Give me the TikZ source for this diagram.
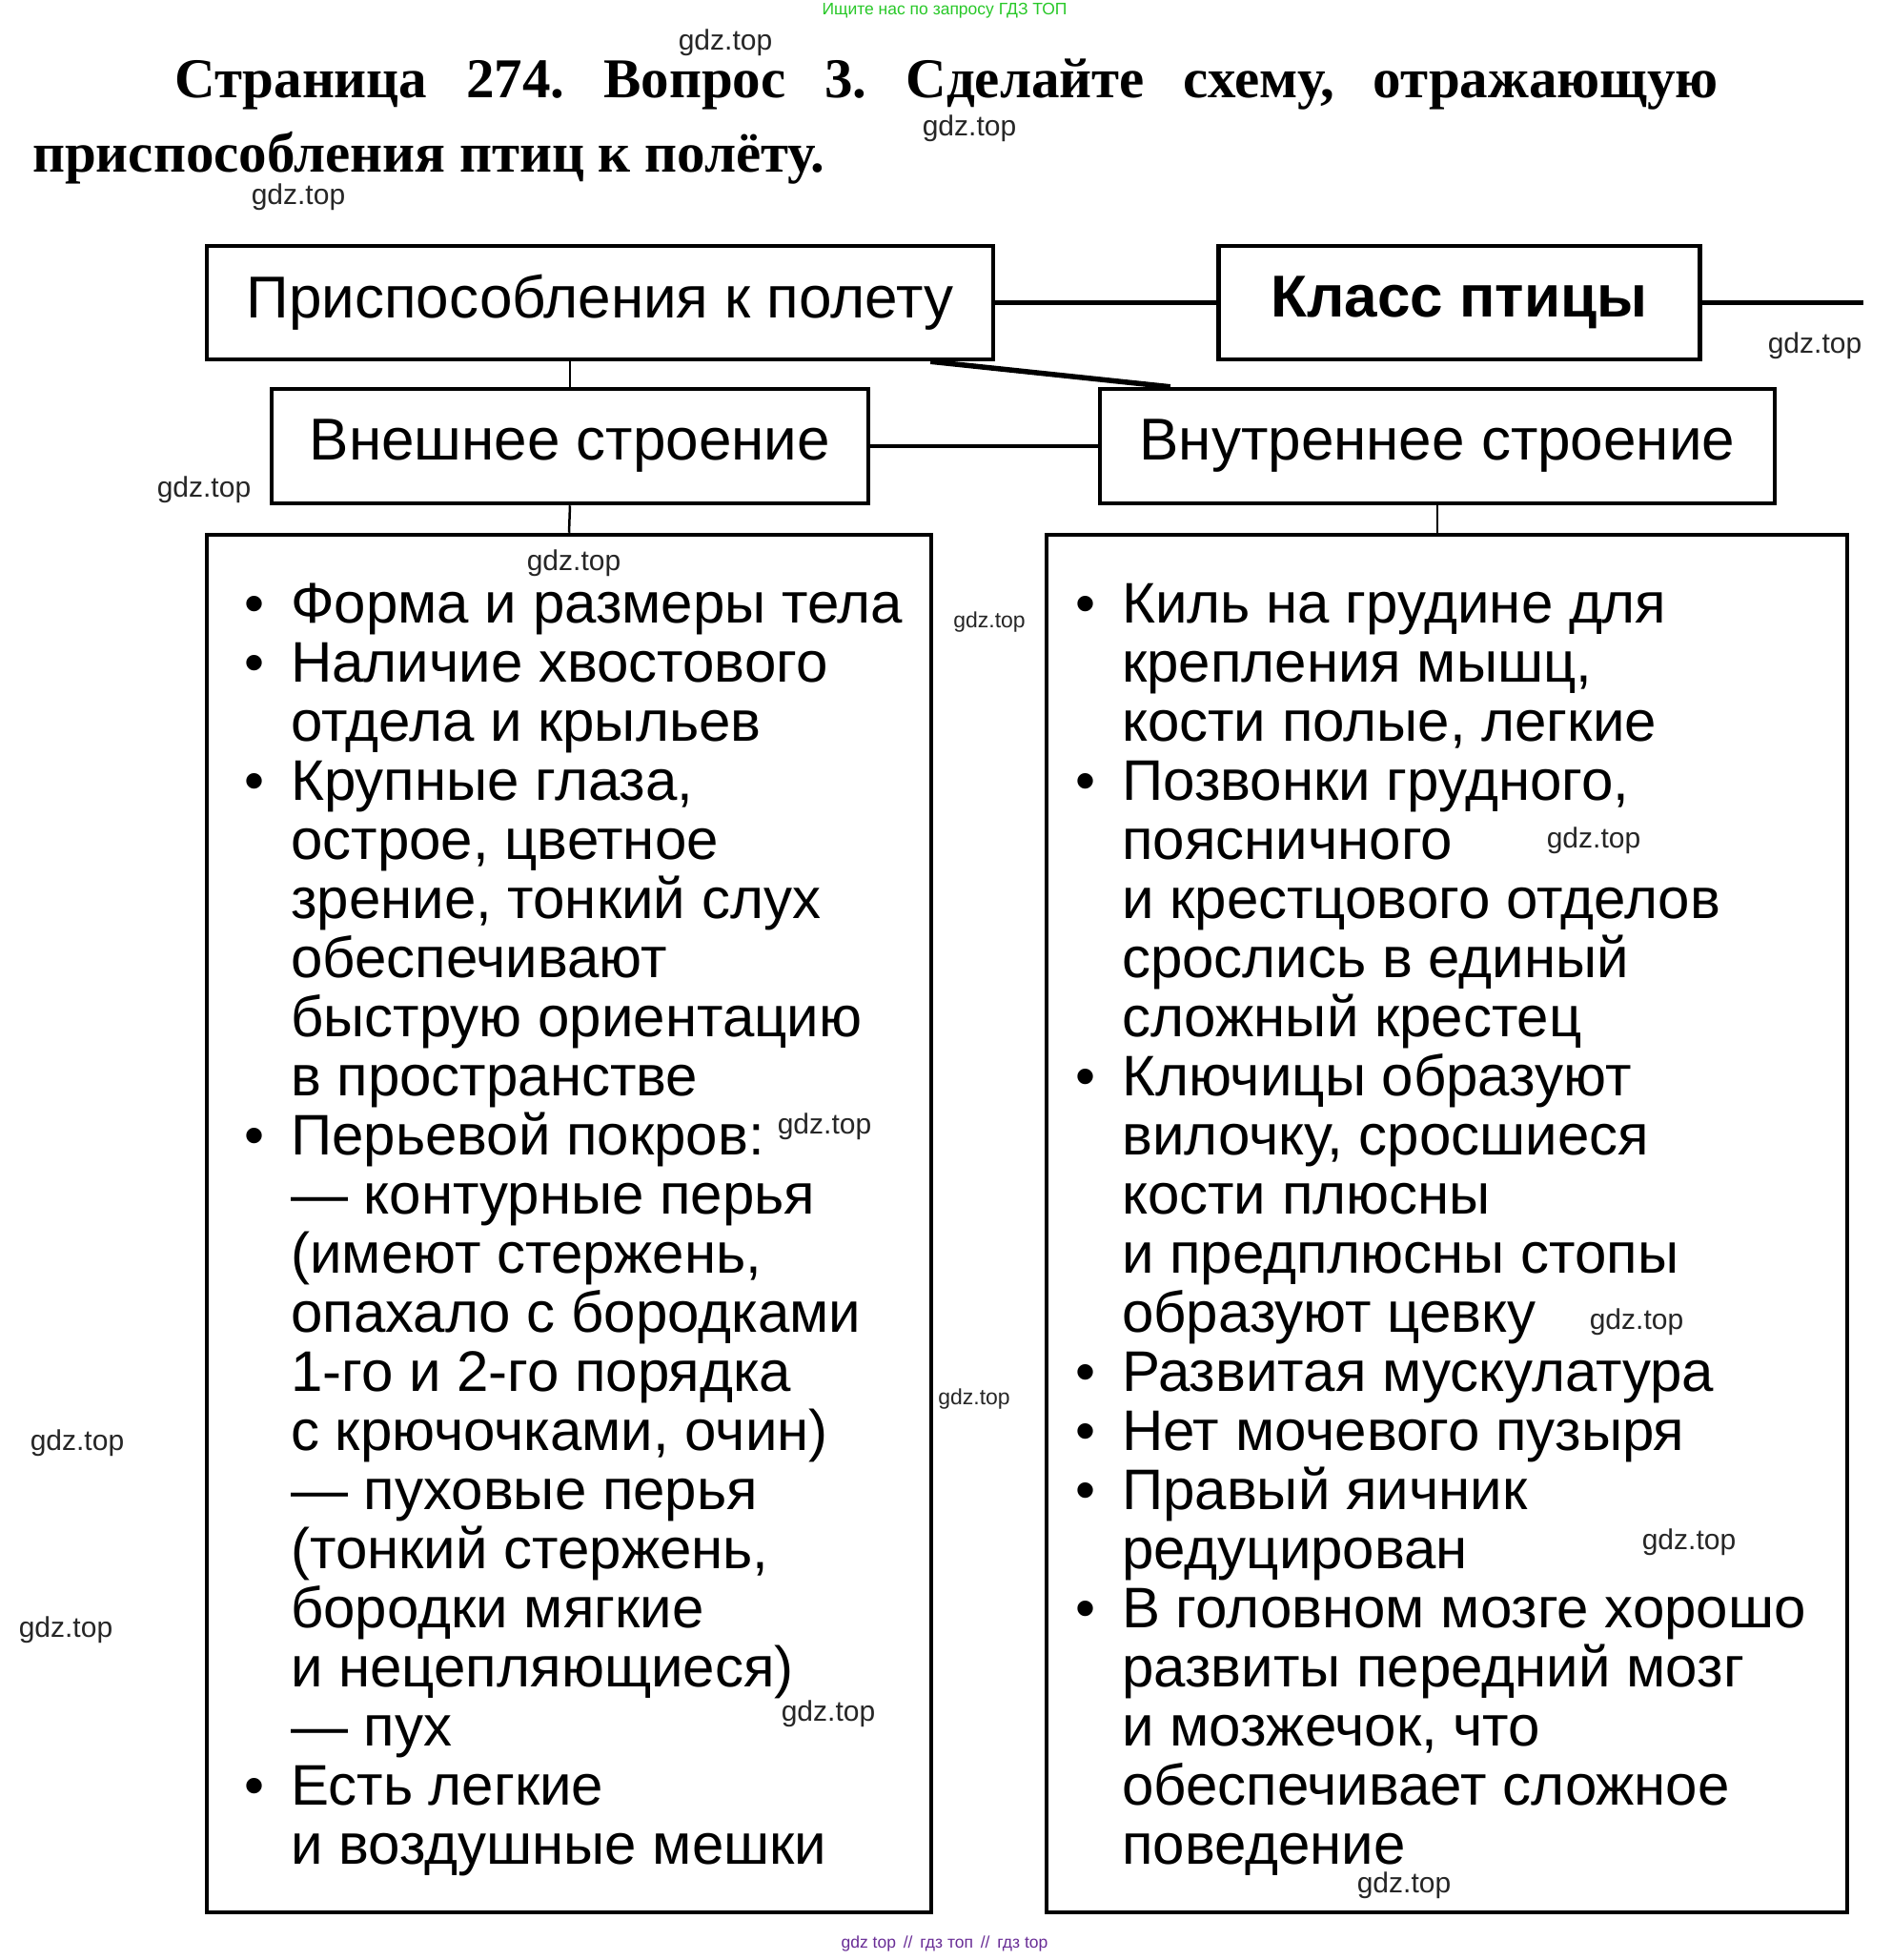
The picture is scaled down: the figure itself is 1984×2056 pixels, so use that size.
\documentclass[tikz,border=0pt]{standalone}
\usepackage{fontspec}
\setmainfont{Liberation Sans}
\newfontfamily\serifb{Liberation Serif}
\definecolor{wmgreen}{RGB}{40,200,40}
\definecolor{wmpurple}{RGB}{105,45,150}
\newcommand\bl{\llap{•\hspace{28pt}}}
\newcommand\st{\rule{0pt}{50pt}}
\begin{document}
\begin{tikzpicture}[x=1pt,y=-1pt,
  hdr/.style={draw=black,line width=4.5pt,inner sep=0pt,font=\fontsize{62}{62}\selectfont},
  panel/.style={draw=black,line width=4.5pt,inner sep=0pt},
  body/.style={align=left,inner sep=0pt,anchor=north west,font=\fontsize{60}{62}\selectfont},
  link/.style={line width=4.5pt},
  thin/.style={line width=2.5pt},
  wm/.style={font=\fontsize{30}{30}\selectfont,inner sep=0pt,text=black!85},
  wms/.style={font=\fontsize{23}{23}\selectfont,inner sep=0pt,text=black!85}]
\useasboundingbox (0,0) rectangle (1984,2056);
\fill[white] (0,0) rectangle (1984,2056);

% title
\node[inner sep=0pt,font=\fontsize{17.5}{17.5}\selectfont,text=wmgreen] (green) at (991,11) {Ищите нас по запросу ГДЗ ТОП};
\node[anchor=base west,inner sep=0pt,font=\serifb\bfseries\fontsize{59}{59}\selectfont] (t1) at (183,102)
  {\makebox[1620pt][s]{Страница\hfill 274.\hfill Вопрос\hfill 3.\hfill Сделайте\hfill схему,\hfill отражающую}};
\node[anchor=base west,inner sep=0pt,font=\serifb\bfseries\fontsize{59}{59}\selectfont] (t2) at (34,180)
  {приспособления птиц к полёту.};

% boxes
\node[hdr,minimum width=825pt,minimum height=119pt] (top) at (629.5,317.5) {Приспособления к полету};
\node[hdr,minimum width=505pt,minimum height=119pt,font=\fontsize{62}{62}\selectfont\bfseries] (klass) at (1531,317.5) {Класс птицы};
\node[hdr,minimum width=626pt,minimum height=120pt] (vnesh) at (598,468) {Внешнее строение};
\node[hdr,minimum width=708pt,minimum height=120pt] (vnutr) at (1508,468) {Внутреннее строение};
\node[panel,minimum width=760pt,minimum height=1445pt] (lbox) at (597,1283.5) {};
\node[panel,minimum width=840pt,minimum height=1445pt] (rbox) at (1518,1283.5) {};

% connectors
\coordinate (rend) at (1955,317.5);
\draw[link] (top.east) -- (klass.west);
\draw[link] (klass.east) -- (rend);
\draw[thin] (vnesh.north |- top.south) -- (vnesh.north);
\draw[line width=5.5pt] ([xshift=-68pt]top.south east) -- ([xshift=76pt]vnutr.north west);
\draw[link] (vnesh.east) -- (vnutr.west);
\draw[thin] (vnesh.south) -- (lbox.north);
\draw[thin] (vnutr.south) -- (vnutr.south |- rbox.north);

% body texts
\node[body] (ltext) at (305,603) {\bl\st Форма и размеры тела\\
\bl Наличие хвостового\\
отдела и крыльев\\
\bl Крупные глаза,\\
острое, цветное\\
зрение, тонкий слух\\
обеспечивают\\
быструю ориентацию\\
в пространстве\\
\bl Перьевой покров:\\
— контурные перья\\
(имеют стержень,\\
опахало с бородками\\
1-го и 2-го порядка\\
с крючочками, очин)\\
— пуховые перья\\
(тонкий стержень,\\
бородки мягкие\\
и нецепляющиеся)\\
— пух\\
\bl Есть легкие\\
и воздушные мешки};

\node[body] (rtext) at (1177,603) {\bl\st Киль на грудине для\\
крепления мышц,\\
кости полые, легкие\\
\bl Позвонки грудного,\\
поясничного\\
и крестцового отделов\\
срослись в единый\\
сложный крестец\\
\bl Ключицы образуют\\
вилочку, сросшиеся\\
кости плюсны\\
и предплюсны стопы\\
образуют цевку\\
\bl Развитая мускулатура\\
\bl Нет мочевого пузыря\\
\bl Правый яичник\\
редуцирован\\
\bl В головном мозге хорошо\\
развиты передний мозг\\
и мозжечок, что\\
обеспечивает сложное\\
поведение};

% watermarks
\node[wm] (w1) at (761,45) {gdz.top};
\node[wm] (w2) at (1017,135) {gdz.top};
\node[wm] (w3) at (313,207) {gdz.top};
\node[wm] (w4) at (1904,363) {gdz.top};
\node[wm] (w5) at (214,514) {gdz.top};
\node[wm] (w6) at (602,591) {gdz.top};
\node[wms] (w7) at (1038,653) {gdz.top};
\node[wm] (w8) at (1672,882) {gdz.top};
\node[wm] (w9) at (865,1182) {gdz.top};
\node[wm] (w10) at (1717,1387) {gdz.top};
\node[wms] (w11) at (1022,1468) {gdz.top};
\node[wm] (w12) at (81,1514) {gdz.top};
\node[wm] (w13) at (1772,1618) {gdz.top};
\node[wm] (w14) at (69,1710) {gdz.top};
\node[wm] (w15) at (869,1798) {gdz.top};
\node[wm] (w16) at (1473,1978) {gdz.top};
\node[inner sep=0pt,font=\fontsize{17.5}{17.5}\selectfont,text=wmpurple] (foot) at (991,2039) {gdz top \,//\, гдз топ \,//\, гдз top};
\end{tikzpicture}
\end{document}
